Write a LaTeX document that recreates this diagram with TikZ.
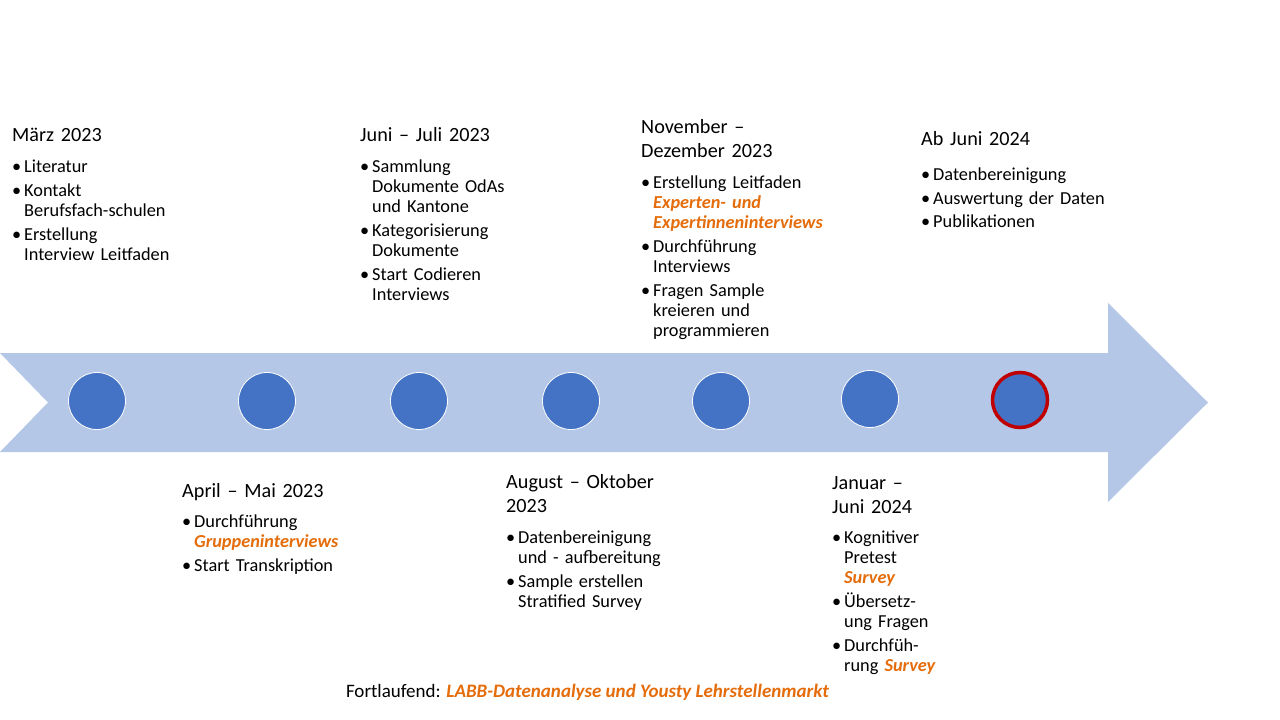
\documentclass[tikz,border=0pt]{standalone}
\usepackage{fontspec}
\setmainfont{Carlito}
\usepackage{tikz}
\definecolor{bandblue}{HTML}{B4C7E7}
\definecolor{dotblue}{HTML}{4472C4}
\definecolor{ringred}{HTML}{C00000}
\definecolor{hiliteorange}{HTML}{E46C0A}
\newcommand{\hilite}[1]{\leavevmode\textcolor{hiliteorange}{\bfseries\itshape #1}}
\newcommand{\bul}{\leavevmode\llap{\makebox[12pt][l]{\textbullet}}}
\newcommand{\itemgap}{\par\vspace{3.5pt}}
\tikzstyle{period} = [anchor=base west, inner sep=0pt, text width=220pt, font=\fontsize{20.2}{24}\selectfont, execute at begin node=\raggedright]
\tikzstyle{tasks} = [anchor=base west, inner sep=0pt, text width=240pt, font=\fontsize{18.3}{20.2}\selectfont, execute at begin node={\raggedright\leftskip=12pt}]
\tikzstyle{dot} = [circle, minimum size=57pt, inner sep=0pt, fill=dotblue, draw=white, line width=0.8pt]
\tikzstyle{lastdot} = [dot, draw=ringred, minimum size=55pt, line width=3.5pt]

\begin{document}
\begin{tikzpicture}[x=1pt, y=-1pt]
\useasboundingbox (0,0) rectangle (1280,720);

\fill[bandblue] (0,353) -- (1108,353) -- (1108,303) -- (1208,402.5) -- (1108,502) -- (1108,452) -- (0,452) -- (48,402.5) -- cycle;

\node (d1) [dot] at (97,401) {};
\node (d2) [dot] at (267,401) {};
\node (d3) [dot] at (419,401) {};
\node (d4) [dot] at (571,401) {};
\node (d5) [dot] at (721,401) {};
\node (d6) [dot] at (870,399) {};
\node (d7) [lastdot] at (1020,400) {};

\node (t1) [period] at (12,141.5) {März 2023};
\node (l1) [tasks] at (12,172.5) {\bul Literatur\itemgap
\bul Kontakt\par Berufsfach-schulen\itemgap
\bul Erstellung\par Interview Leitfaden};

\node (t2) [period] at (182,497.5) {April – Mai 2023};
\node (l2) [tasks] at (182,527.5) {\bul Durchführung\par \hilite{Gruppeninterviews}\itemgap
\bul Start Transkription};

\node (t3) [period] at (360,141.5) {Juni – Juli 2023};
\node (l3) [tasks] at (360,172.5) {\bul Sammlung\par Dokumente OdAs\par und Kantone\itemgap
\bul Kategorisierung\par Dokumente\itemgap
\bul Start Codieren\par Interviews};

\node (t4) [period] at (506,488.5) {August – Oktober\par 2023};
\node (l4) [tasks] at (506,543.5) {\bul Datenbereinigung\par und - aufbereitung\itemgap
\bul Sample erstellen\par Stratified Survey};

\node (t5) [period] at (641,133.5) {November –\par Dezember 2023};
\node (l5) [tasks] at (641,188.5) {\bul Erstellung Leitfaden\par \hilite{Experten- und}\par \hilite{Expertinneninterviews}\itemgap
\bul Durchführung\par Interviews\itemgap
\bul Fragen Sample\par kreieren und\par programmieren};

\node (t6) [period] at (921,145.5) {Ab Juni 2024};
\node (l6) [tasks] at (921,180.5) {\bul Datenbereinigung\itemgap
\bul Auswertung der Daten\itemgap
\bul Publikationen};

\node (t7) [period] at (832,489.5) {Januar –\par Juni 2024};
\node (l7) [tasks] at (832,543.5) {\bul Kognitiver\par Pretest\par \hilite{Survey}\itemgap
\bul Übersetz-\par ung Fragen\itemgap
\bul Durchfüh-\par rung \hilite{Survey}};

\node (foot) [anchor=base, inner sep=0pt, font=\fontsize{19}{22}\selectfont] at (587.5,697) {Fortlaufend: \hilite{LABB-Datenanalyse und Yousty Lehrstellenmarkt}};

\end{tikzpicture}
\end{document}
